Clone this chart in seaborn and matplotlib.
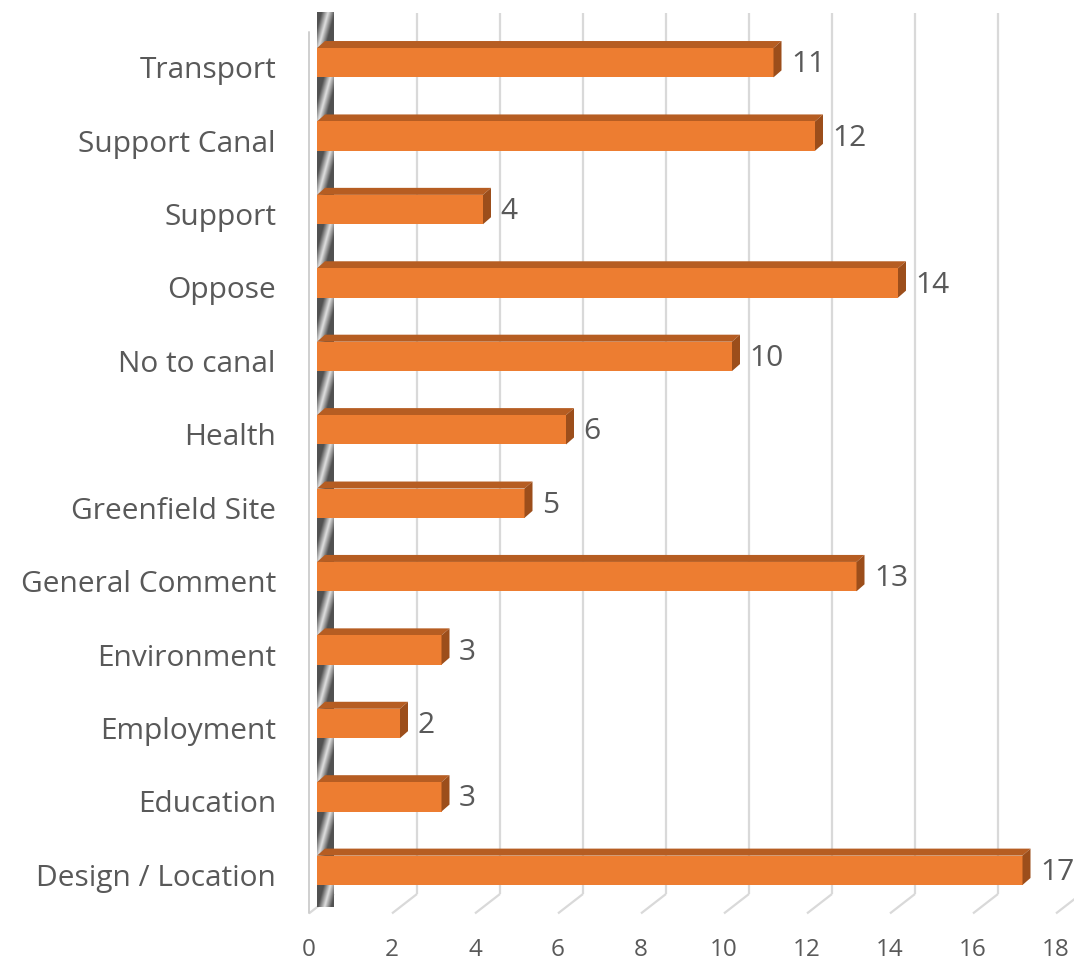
import numpy as np
import pandas as pd
import matplotlib
matplotlib.use("Agg")
import matplotlib.pyplot as plt
import seaborn as sns
from matplotlib.patches import Polygon
from matplotlib.transforms import ScaledTranslation

# Responses grouped by topic
categories = ["Transport", "Support Canal", "Support", "Oppose", "No to canal", "Health",
              "Greenfield Site", "General Comment", "Environment", "Employment", "Education",
              "Design / Location"]
counts = [11, 12, 4, 14, 10, 6, 5, 13, 3, 2, 3, 17]
x_ticks = [0, 2, 4, 6, 8, 10, 12, 14, 16, 18]

FRONT = "#ED7D31"
TOP = "#B65D22"
SIDE = "#9C4E1B"
TEXT = "#595959"
GRID = "#D9D9D9"

sns.set_theme(style="white")
plt.rcParams["font.family"] = ["Open Sans", "DejaVu Sans"]

W, H, DPI = 1074, 963, 100
fig = plt.figure(figsize=(W / DPI, H / DPI), dpi=DPI)
fig.patch.set_facecolor("white")

# plot area in pixels (front face plane of the bars)
left, right, top, bottom = 317, 1064, 26, 907
ax = fig.add_axes([left / W, (H - bottom) / H, (right - left) / W, (bottom - top) / H])
ax.patch.set_alpha(0)

df = pd.DataFrame({"category": categories, "count": counts})
sns.barplot(data=df, x="count", y="category", orient="h", color=FRONT,
            width=0.4, saturation=1, ax=ax, zorder=4, linewidth=0)
n = len(categories)
ax.set_xlim(x_ticks[0], x_ticks[-1])
ax.set_ylim(n - 0.5, -0.5)
ax.set_xticks([])
ax.set_yticks([])
ax.set_xlabel("")
ax.set_ylabel("")
for s in ax.spines.values():
    s.set_visible(False)

# pixel -> data unit conversion for the pseudo-3D depth
px_x = (right - left) / (x_ticks[-1] - x_ticks[0])
px_y = (bottom - top) / n
back_dx, back_dy = 17 / px_x, -13 / px_y      # back wall plane
front_dx, front_dy = -8 / px_x, 6.4 / px_y    # front edge of the floor
bar_dx, bar_dy = 8 / px_x, -7 / px_y          # depth of each bar

y_top, y_bot = -0.5, n - 0.5

# back gridlines and floor lines
for t in x_ticks:
    if t > 0:
        ax.plot([t + back_dx, t + back_dx], [y_top + back_dy, y_bot + back_dy],
                color=GRID, lw=1.6, clip_on=False, zorder=1, solid_capstyle="butt")
    ax.plot([t + back_dx, t + front_dx], [y_bot + back_dy, y_bot + front_dy],
            color=GRID, lw=1.6, clip_on=False, zorder=1, solid_capstyle="butt")

# left wall: front edge line
ax.plot([front_dx, front_dx], [y_top + front_dy, y_bot + front_dy],
        color="#CFCFCF", lw=1.4, clip_on=False, zorder=1)

# left wall: shaded inner face
nx, ny = 40, 1600
us = np.linspace(0, 1, nx)
ys = np.linspace(y_top + back_dy, y_bot, ny)
U, Y = np.meshgrid(us, ys)
local = Y - (np.floor(Y) + 0.5)
u_light = 0.45 - 1.2 * local
dist = np.clip(np.abs(U - u_light) / 0.4, 0, 1)
shade = 0.88 - (0.88 - 0.32) * dist
rgb = np.dstack([shade, shade, shade])
im = ax.imshow(rgb, extent=(0, back_dx, y_bot, y_top + back_dy), origin="upper",
               aspect="auto", interpolation="bilinear", zorder=2, clip_on=False)
wall = Polygon([(0, y_top), (back_dx, y_top + back_dy), (back_dx, y_bot + back_dy), (0, y_bot)],
               closed=True, transform=ax.transData, facecolor="none", edgecolor="none")
ax.add_patch(wall)
wall.set_clip_on(False)
im.set_clip_path(wall)
ax.set_xlim(x_ticks[0], x_ticks[-1])
ax.set_ylim(n - 0.5, -0.5)

# top and side faces of each bar
for bar in list(ax.patches):
    if bar is wall:
        continue
    x0, y0 = bar.get_x(), bar.get_y()
    w, h = bar.get_width(), bar.get_height()
    x1, yt, yb = x0 + w, min(y0, y0 + h), max(y0, y0 + h)
    top_face = Polygon([(x0, yt), (x1, yt), (x1 + bar_dx, yt + bar_dy), (x0 + bar_dx, yt + bar_dy)],
                       closed=True, facecolor=TOP, edgecolor="none", zorder=3, clip_on=False)
    side_face = Polygon([(x1, yt), (x1 + bar_dx, yt + bar_dy), (x1 + bar_dx, yb + bar_dy), (x1, yb)],
                        closed=True, facecolor=SIDE, edgecolor="none", zorder=5, clip_on=False)
    ax.add_patch(top_face)
    ax.add_patch(side_face)

# value labels
for i, v in enumerate(counts):
    ax.annotate(str(v), xy=(v, i), xytext=(12.5, -1.5), textcoords="offset points",
                ha="left", va="center", fontsize=21.5, color=TEXT, clip_on=False, zorder=6)

# category labels on the front edge of the floor
cat_tr = ax.transData + ScaledTranslation(-41 / DPI, -8 / DPI, fig.dpi_scale_trans)
for i, c in enumerate(categories):
    ax.text(0, i, c, transform=cat_tr, ha="right", va="center",
            fontsize=21.5, color=TEXT, clip_on=False)

# value axis labels
tick_tr = ax.transData + ScaledTranslation(-8 / DPI, -43 / DPI, fig.dpi_scale_trans)
for t in x_ticks:
    ax.text(t, y_bot, str(t), transform=tick_tr, ha="center", va="center",
            fontsize=17.5, color=TEXT, clip_on=False)

fig.savefig("out.png", dpi=DPI, facecolor="white")
